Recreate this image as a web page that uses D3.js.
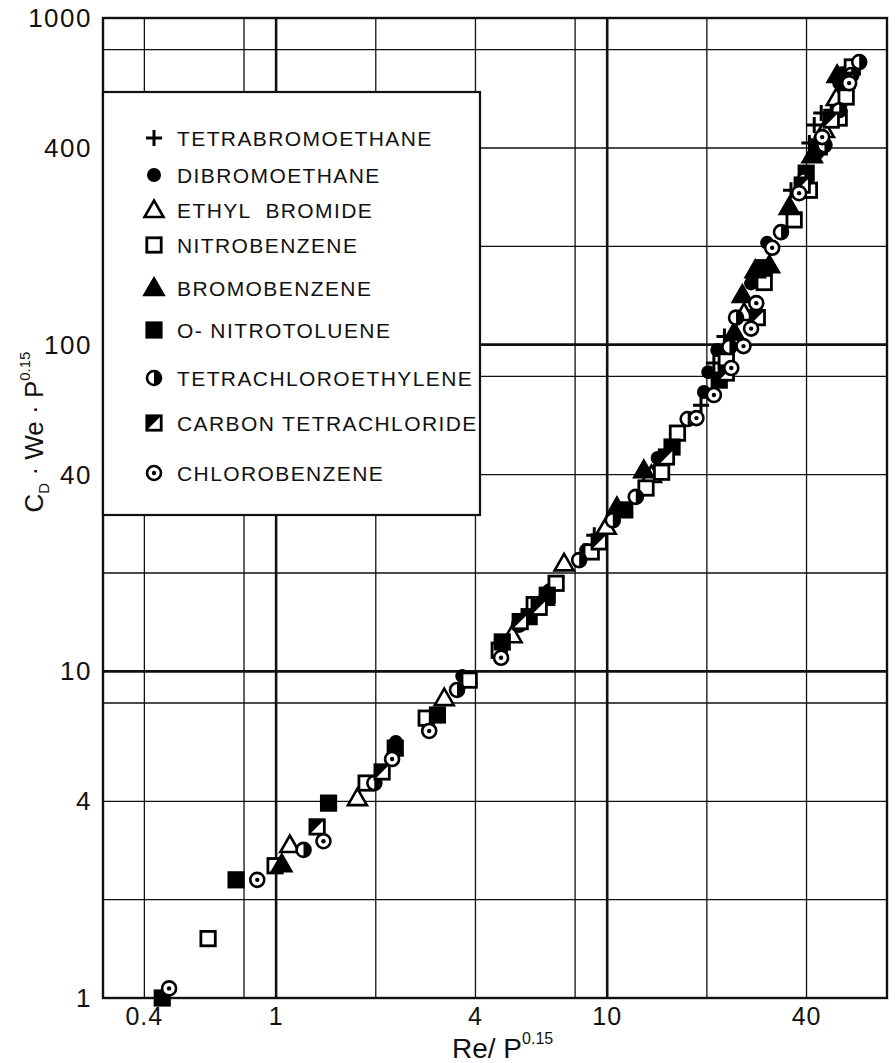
<!DOCTYPE html>
<meta charset="utf-8">
<style>
body { margin: 0; background: #fff; }
text { font-family: "Liberation Sans", Arial, sans-serif; fill: #111; }
</style>
<svg width="895" height="1063"></svg>
<script src="https://cdn.jsdelivr.net/npm/d3@7/dist/d3.min.js"></script>
<script>

// tick labels and grid values
var xTicks = [0.4, 1, 4, 10, 40]
var yTicks = [1, 4, 10, 40, 100, 400, 1000]
var xGrid = [0.4, 0.8, 1, 2, 4, 8, 10, 20, 40]
var yGrid = [2, 4, 8, 10, 20, 40, 80, 100, 200, 400, 800]
var heavy = [1, 10, 100]

// [Re/P^0.15, Cd*We*P^0.15]
var tetrabromoethane = [[9.14,26.1],[19.2,65.3],[21.0,87.9],[22.6,106],[35.9,297],[40.8,414],[42.2,470],[44.3,512],[47.5,522],[53.1,703]]
var dibromoethane = [[2.30,6.08],[3.65,9.67],[6.68,17.7],[8.64,23.5],[14.2,45.0],[19.6,71.6],[20.2,82.4],[21.5,96.3],[27.2,154],[30.4,205],[43.1,386],[50.2,632],[52.0,678]]
var ethylBromide = [[1.10,2.94],[1.76,4.09],[3.22,8.28],[5.16,12.9],[7.41,21.4],[9.93,27.7],[13.6,39.9],[25.9,125],[45.3,454],[49.2,569]]
var nitrobenzene = [[0.623,1.52],[0.993,2.54],[1.87,4.55],[2.84,7.19],[3.83,9.40],[4.72,11.6],[6.02,16.0],[7.01,18.6],[8.95,23.2],[13.1,36.4],[14.6,40.7],[16.3,53.6],[22.9,89.1],[29.8,155],[36.7,241],[40.8,297],[50.2,494],[52.7,573],[55.0,708]]
var bromobenzene = [[1.04,2.57],[6.45,16.8],[10.7,31.8],[12.9,41.3],[24.2,109],[25.6,142],[28.0,169],[30.9,175],[35.5,264],[41.6,380],[49.5,669]]
var oNitrotoluene = [[0.453,1.0],[0.757,2.30],[1.44,3.95],[2.29,5.82],[3.07,7.35],[4.82,12.3],[5.81,14.7],[6.59,17.1],[11.3,31.2],[15.7,48.6],[21.8,77.9],[29.8,172],[39.9,335],[43.7,403]]
var tetrachloroethylene = [[1.21,2.84],[1.98,4.55],[3.52,8.77],[5.42,13.9],[8.23,21.9],[10.4,29.0],[12.2,34.2],[17.5,59.2],[23.4,98.4],[24.5,121],[33.5,221],[39.4,319],[45.3,408],[50.2,522],[54.6,669],[57.7,733]]
var carbonTet = [[1.33,3.34],[2.09,4.92],[5.46,14.2],[6.23,15.7],[9.46,24.9],[15.1,45.3],[22.9,81.9],[28.4,121],[38.8,308],[47.5,487],[53.1,645]]
var chlorobenzene = [[0.475,1.07],[0.877,2.30],[1.39,3.02],[2.24,5.39],[2.90,6.57],[4.78,11.0],[18.6,59.6],[21.0,70.1],[23.7,84.8],[25.8,99.0],[27.2,112],[28.2,134],[31.5,198],[38.0,291],[44.6,432],[53.8,632]]

var series = [
  {name: "TETRABROMOETHANE", sym: "plus", data: tetrabromoethane},
  {name: "DIBROMOETHANE", sym: "dot", data: dibromoethane},
  {name: "ETHYL  BROMIDE", sym: "triOpen", data: ethylBromide},
  {name: "NITROBENZENE", sym: "sqOpen", data: nitrobenzene},
  {name: "BROMOBENZENE", sym: "triFill", data: bromobenzene},
  {name: "O- NITROTOLUENE", sym: "sqFill", data: oNitrotoluene},
  {name: "TETRACHLOROETHYLENE", sym: "halfCircle", data: tetrachloroethylene},
  {name: "CARBON TETRACHLORIDE", sym: "halfSquare", data: carbonTet},
  {name: "CHLOROBENZENE", sym: "dotCircle", data: chlorobenzene}
]
var legendY = [138, 175, 210, 245, 288, 330, 378, 423, 473]

var svg = d3.select("svg")
// plot frame (note: "top" clashes with window.top, so prefixed names)
var pLeft = 103, pRight = 887, pTop = 18, pBottom = 998

var x = d3.scaleLog().domain([0.3, 70]).range([pLeft, pRight])
var y = d3.scaleLog().domain([1, 1000]).range([pBottom, pTop])

// grid
svg.append("g").selectAll("line")
  .data(xGrid).enter().append("line")
    .attr("x1", d => x(d)).attr("x2", d => x(d))
    .attr("y1", pTop).attr("y2", pBottom)
    .attr("stroke", "#111")
    .attr("stroke-width", d => heavy.includes(d) ? 2.6 : 1.3)

svg.append("g").selectAll("line")
  .data(yGrid).enter().append("line")
    .attr("y1", d => y(d)).attr("y2", d => y(d))
    .attr("x1", pLeft).attr("x2", pRight)
    .attr("stroke", "#111")
    .attr("stroke-width", d => heavy.includes(d) ? 2.6 : 1.3)

svg.append("rect")
  .attr("x", pLeft).attr("y", pTop)
  .attr("width", pRight - pLeft).attr("height", pBottom - pTop)
  .attr("fill", "none").attr("stroke", "#111").attr("stroke-width", 2.4)

function marker(g, sym) {
  var s = 7.2, r = 7
  if (sym == "plus") {
    g.append("path").attr("d", "M-8,0H8M0,-8V8")
      .attr("stroke", "#000").attr("stroke-width", 3).attr("fill", "none")
  } else if (sym == "dot") {
    g.append("circle").attr("r", r).attr("fill", "#000")
  } else if (sym == "triOpen" || sym == "triFill") {
    g.append("path").attr("d", "M0,-9.5L9.5,7H-9.5Z")
      .attr("fill", sym == "triFill" ? "#000" : "#fff")
      .attr("stroke", "#000").attr("stroke-width", 2.6).attr("stroke-linejoin", "miter")
  } else if (sym == "sqOpen" || sym == "sqFill") {
    g.append("rect").attr("x", -s).attr("y", -s).attr("width", 2 * s).attr("height", 2 * s)
      .attr("fill", sym == "sqFill" ? "#000" : "#fff")
      .attr("stroke", "#000").attr("stroke-width", 2.8)
  } else if (sym == "halfCircle") {
    g.append("circle").attr("r", r).attr("fill", "#fff")
      .attr("stroke", "#000").attr("stroke-width", 2.6)
    g.append("path").attr("d", "M0,-" + r + "A" + r + "," + r + " 0 0 1 0," + r + "Z").attr("fill", "#000")
  } else if (sym == "halfSquare") {
    g.append("rect").attr("x", -s).attr("y", -s).attr("width", 2 * s).attr("height", 2 * s)
      .attr("fill", "#fff").attr("stroke", "#000").attr("stroke-width", 2.8)
    g.append("path").attr("d", "M" + (-s) + "," + (-s) + "H" + s + "L" + (-s) + "," + s + "Z").attr("fill", "#000")
  } else if (sym == "dotCircle") {
    g.append("circle").attr("r", r).attr("fill", "#fff")
      .attr("stroke", "#000").attr("stroke-width", 2.6)
    g.append("circle").attr("r", 2.2).attr("fill", "#000")
  }
}

// data points
series.forEach(function(ser) {
  svg.append("g").selectAll("g")
    .data(ser.data).enter().append("g")
      .attr("transform", d => "translate(" + x(d[0]) + "," + y(d[1]) + ")")
      .each(function() { marker(d3.select(this), ser.sym) })
})

// legend box
svg.append("rect")
  .attr("x", pLeft).attr("y", 92).attr("width", 377).attr("height", 423)
  .attr("fill", "#fff").attr("stroke", "#111").attr("stroke-width", 2.2)

series.forEach(function(ser, i) {
  var g = svg.append("g").attr("transform", "translate(154," + legendY[i] + ")")
  marker(g, ser.sym)
  svg.append("text")
    .attr("x", 177).attr("y", legendY[i] + 8)
    .attr("font-size", 21).attr("letter-spacing", 1.4)
    .style("white-space", "pre")
    .text(ser.name)
})

// tick labels
svg.append("g").selectAll("text")
  .data(yTicks).enter().append("text")
    .attr("x", 92).attr("y", d => y(d) + 9)
    .attr("text-anchor", "end")
    .attr("font-size", 26).attr("letter-spacing", 1.5)
    .text(d => d)

svg.append("g").selectAll("text")
  .data(xTicks).enter().append("text")
    .attr("x", d => x(d)).attr("y", 1025)
    .attr("text-anchor", "middle")
    .attr("font-size", 25).attr("letter-spacing", 1)
    .text(d => d)

// axis titles
var xt = svg.append("text").attr("x", 452).attr("y", 1058).attr("font-size", 28)
xt.append("tspan").text("Re/ P")
xt.append("tspan").attr("dy", -14).attr("font-size", 16).text("0.15")

var yt = svg.append("text")
  .attr("transform", "translate(43,432) rotate(-90)")
  .attr("text-anchor", "middle").attr("font-size", 26)
yt.append("tspan").text("C")
yt.append("tspan").attr("dy", 6).attr("font-size", 15).text("D")
yt.append("tspan").attr("dy", -6).text(" \u00b7 We \u00b7 P")
yt.append("tspan").attr("dy", -13).attr("font-size", 15).text("0.15")

</script>
